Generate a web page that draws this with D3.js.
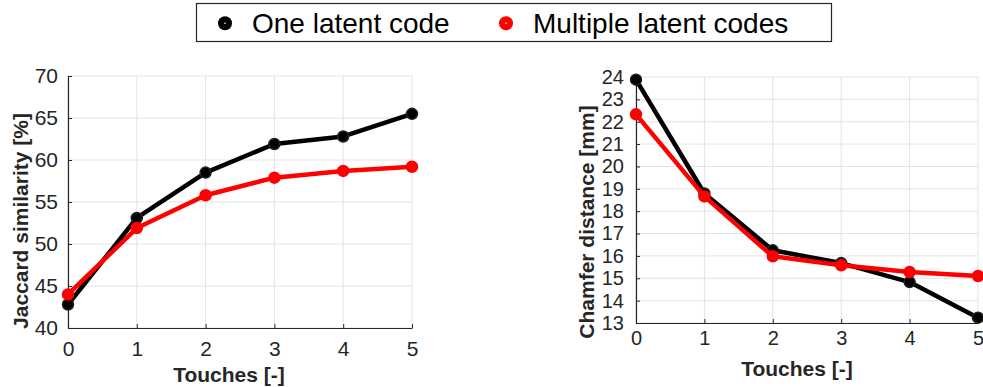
<!DOCTYPE html>
<html>
<head>
<meta charset="utf-8">
<script src="https://cdn.jsdelivr.net/npm/d3@7"></script>
<style>
body { margin: 0; background: #fff; }
svg { display: block; font-family: "Liberation Sans", Arial, Helvetica, sans-serif; }
</style>
</head>
<body>
<div id="chart"></div>
<script>
var WIDTH = 983;
var HEIGHT = 387;

var touches = [0, 1, 2, 3, 4, 5];
var seriesNames = ["One latent code", "Multiple latent codes"];
var COLORS = ["#000000", "#ff0000"];

// Jaccard similarity [%]
var jaccardOne = [42.8, 53.1, 58.5, 61.9, 62.8, 65.5];
var jaccardMulti = [44.0, 51.9, 55.8, 57.9, 58.7, 59.2];
var jaccardTicks = [40, 45, 50, 55, 60, 65, 70];

// Chamfer distance [mm]
var chamferOne = [23.88, 18.79, 16.25, 15.68, 14.83, 13.24];
var chamferMulti = [22.33, 18.66, 15.98, 15.58, 15.28, 15.1];
var chamferTicks = [13, 14, 15, 16, 17, 18, 19, 20, 21, 22, 23, 24];

var svg = d3.select("#chart").append("svg")
	.attr("width", WIDTH)
	.attr("height", HEIGHT);

function drawPanel(opts) {
	var x = d3.scaleLinear().domain([0, 5]).range([opts.left, opts.right]);
	var y = d3.scaleLinear().domain(opts.domain).range([opts.bottom, opts.top]);
	var g = svg.append("g");

	// grid
	g.selectAll("line.gx")
		.data(touches)
		.enter()
		.append("line")
		.attr("x1", d => x(d)).attr("x2", d => x(d))
		.attr("y1", opts.top).attr("y2", opts.bottom)
		.attr("stroke", "#e3e3e3")
		.attr("stroke-width", 1);
	g.selectAll("line.gy")
		.data(opts.ticks)
		.enter()
		.append("line")
		.attr("x1", opts.left).attr("x2", opts.right)
		.attr("y1", d => y(d)).attr("y2", d => y(d))
		.attr("stroke", "#e3e3e3")
		.attr("stroke-width", 1);

	// axes (MATLAB style, ticks inside)
	var yAxis = d3.axisLeft(y).tickValues(opts.ticks).tickFormat(d3.format("d"))
		.tickSizeInner(-4).tickSizeOuter(0).tickPadding(opts.yPad);
	var xAxis = d3.axisBottom(x).tickValues(touches).tickFormat(d3.format("d"))
		.tickSizeInner(-4).tickSizeOuter(0).tickPadding(opts.xPad);

	var ya = g.append("g").attr("transform", "translate(" + opts.left + ",0)").call(yAxis);
	var xa = g.append("g").attr("transform", "translate(0," + opts.bottom + ")").call(xAxis);
	[ya, xa].forEach(function(a) {
		a.select(".domain").attr("stroke", "#262626").attr("stroke-width", 1.2);
		a.selectAll(".tick line").attr("stroke", "#262626");
		a.selectAll(".tick text")
			.attr("fill", "#262626")
			.style("font-size", opts.tickFont);
	});

	// lines
	var line = d3.line().x((d, i) => x(touches[i])).y(d => y(d));
	opts.series.forEach(function(s, k) {
		g.append("path")
			.datum(s)
			.attr("fill", "none")
			.attr("stroke", COLORS[k])
			.attr("stroke-width", 4.5)
			.attr("stroke-linejoin", "round")
			.attr("d", line);
		g.selectAll("circle.s" + k)
			.data(s)
			.enter()
			.append("circle")
			.attr("cx", (d, i) => x(touches[i]))
			.attr("cy", d => y(d))
			.attr("r", 5.5)
			.attr("fill", COLORS[k])
			.attr("stroke", k === 0 ? "#222" : "#ff0000")
			.attr("stroke-width", 1.5);
	});

	// titles
	g.append("text")
		.attr("x", opts.titleX)
		.attr("y", opts.titleY)
		.attr("text-anchor", "middle")
		.attr("fill", "#262626")
		.style("font-size", "21px")
		.style("font-weight", "bold")
		.text("Touches [-]");
	g.append("text")
		.attr("transform", "translate(" + opts.labelX + "," + opts.labelY + ") rotate(-90)")
		.attr("text-anchor", "middle")
		.attr("fill", "#262626")
		.style("font-size", "21px")
		.style("font-weight", "bold")
		.text(opts.label);
}

drawPanel({
	left: 68, right: 412, top: 76, bottom: 328,
	domain: [40, 70], ticks: jaccardTicks,
	series: [jaccardOne, jaccardMulti],
	yPad: 10, xPad: 13, tickFont: "21px",
	titleX: 229, titleY: 382,
	label: "Jaccard similarity [%]", labelX: 28, labelY: 221
});

drawPanel({
	left: 636, right: 978, top: 77, bottom: 323,
	domain: [13, 24], ticks: chamferTicks,
	series: [chamferOne, chamferMulti],
	yPad: 12, xPad: 8, tickFont: "20px",
	titleX: 797, titleY: 376,
	label: "Chamfer distance [mm]", labelX: 594, labelY: 222
});

// legend
var legend = svg.append("g");
legend.append("rect")
	.attr("x", 196.5).attr("y", 3.5)
	.attr("width", 635).attr("height", 38)
	.attr("fill", "#fff")
	.attr("stroke", "#262626")
	.attr("stroke-width", 1.2);
var legendX = [225, 506];
seriesNames.forEach(function(name, k) {
	legend.append("circle")
		.attr("cx", legendX[k]).attr("cy", 23.3)
		.attr("r", 7)
		.attr("fill", COLORS[k]);
	legend.append("circle")
		.attr("cx", legendX[k]).attr("cy", 23.3)
		.attr("r", 0.8)
		.attr("fill", "#fff");
	legend.append("text")
		.attr("x", legendX[k] + 27).attr("y", 32.5)
		.attr("fill", "#000")
		.style("font-size", "28px")
		.text(name);
});
</script>
</body>
</html>
